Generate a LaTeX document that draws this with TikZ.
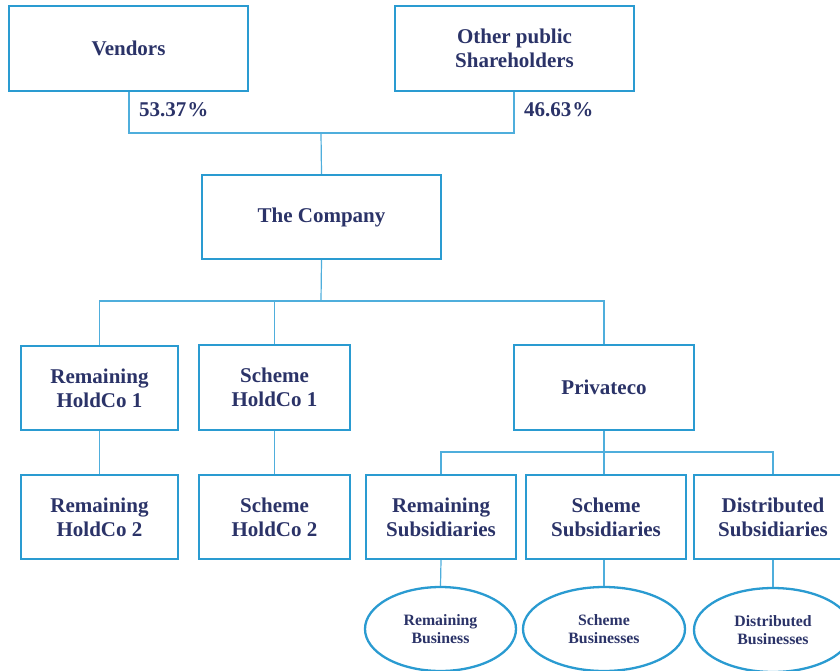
\documentclass[tikz,border=0pt]{standalone}
\usepackage{fontspec}
\setmainfont{Liberation Serif}
\usetikzlibrary{shapes.geometric}
\definecolor{boxblue}{HTML}{2A9BD1}
\definecolor{lineblue}{HTML}{4FAEDC}
\definecolor{navy}{HTML}{2B3368}
\tikzset{
  orgbox/.style={draw=boxblue, line width=2.3pt, fill=white, rectangle, inner sep=0pt,
    text=navy, align=center, font=\fontsize{21}{24}\selectfont\bfseries},
  bizell/.style={draw=boxblue, line width=2.3pt, fill=white, ellipse, inner sep=0pt,
    text=navy, align=center, font=\fontsize{15.8}{18.5}\selectfont\bfseries},
  pct/.style={text=navy, anchor=west, inner sep=0pt, font=\fontsize{21}{24}\selectfont\bfseries},
  conn/.style={draw=lineblue, line width=1.2pt}
}
\begin{document}
\begin{tikzpicture}[x=1pt,y=-1pt]
\clip (0,0) rectangle (840,670);
\useasboundingbox (0,0) rectangle (840,670);
\fill[white] (0,0) rectangle (840,670);

% junction coordinates
\coordinate (j1) at (321,133);
\coordinate (j2) at (321,301);
\coordinate (j3) at (604,452);

\node[orgbox, minimum width=239pt, minimum height=85pt] (vend) at (128.5,48.5) {Vendors};
\node[orgbox, minimum width=239pt, minimum height=85pt] (other) at (514.5,48.5) {Other public\\Shareholders};
\node[orgbox, minimum width=239pt, minimum height=84pt] (comp) at (321.5,217) {The Company};

\node[orgbox, minimum width=157pt, minimum height=84pt] (rh1) at (99.5,388) {Remaining\\HoldCo 1};
\node[orgbox, minimum width=151pt, minimum height=85pt] (sh1) at (274.5,387.5) {Scheme\\HoldCo 1};
\node[orgbox, minimum width=180pt, minimum height=85pt] (priv) at (604,387.5) {Privateco};

\node[orgbox, minimum width=157pt, minimum height=84pt] (rh2) at (99.5,517) {Remaining\\HoldCo 2};
\node[orgbox, minimum width=151pt, minimum height=84pt] (sh2) at (274.5,517) {Scheme\\HoldCo 2};

\node[orgbox, minimum width=150pt, minimum height=84pt] (rs) at (441,517) {Remaining\\Subsidiaries};
\node[orgbox, minimum width=160pt, minimum height=84pt] (ss) at (606,517) {Scheme\\Subsidiaries};
\node[orgbox, minimum width=158pt, minimum height=84pt] (ds) at (773,517) {Distributed\\Subsidiaries};

\node[bizell, minimum width=151pt, minimum height=84pt] (rb) at (440.5,629) {Remaining\\Business};
\node[bizell, minimum width=162pt, minimum height=84pt] (sb) at (604,629) {Scheme\\Businesses};
\node[bizell, minimum width=158pt, minimum height=84pt] (db) at (773,630) {Distributed\\Businesses};

\node[pct] (p1) at (139,110) {53.37\kern1pt\%};
\node[pct] (p2) at (524,110) {46.63\kern1pt\%};

\draw[conn] (vend.south -| 129,0) |- (j1) -| (other.south -| 514,0);
\draw[conn] (j1) -- (comp.north);
\draw[conn] (comp.south) -- (j2);
\draw[conn] (rh1.north) |- (j2) -| (priv.north);
\draw[conn] (sh1.north) -- (sh1.north |- j2);
\draw[conn] (rh1.south) -- (rh2.north);
\draw[conn] (sh1.south) -- (sh2.north);
\draw[conn] (priv.south) -- (j3);
\draw[conn] (rs.north) |- (j3) -| (ds.north);
\draw[conn] (j3) -- (j3 |- ss.north);
\draw[conn] (rs.south) -- (rb.north);
\draw[conn] (ss.south -| sb.north) -- (sb.north);
\draw[conn] (ds.south) -- (db.north);
\end{tikzpicture}
\end{document}
